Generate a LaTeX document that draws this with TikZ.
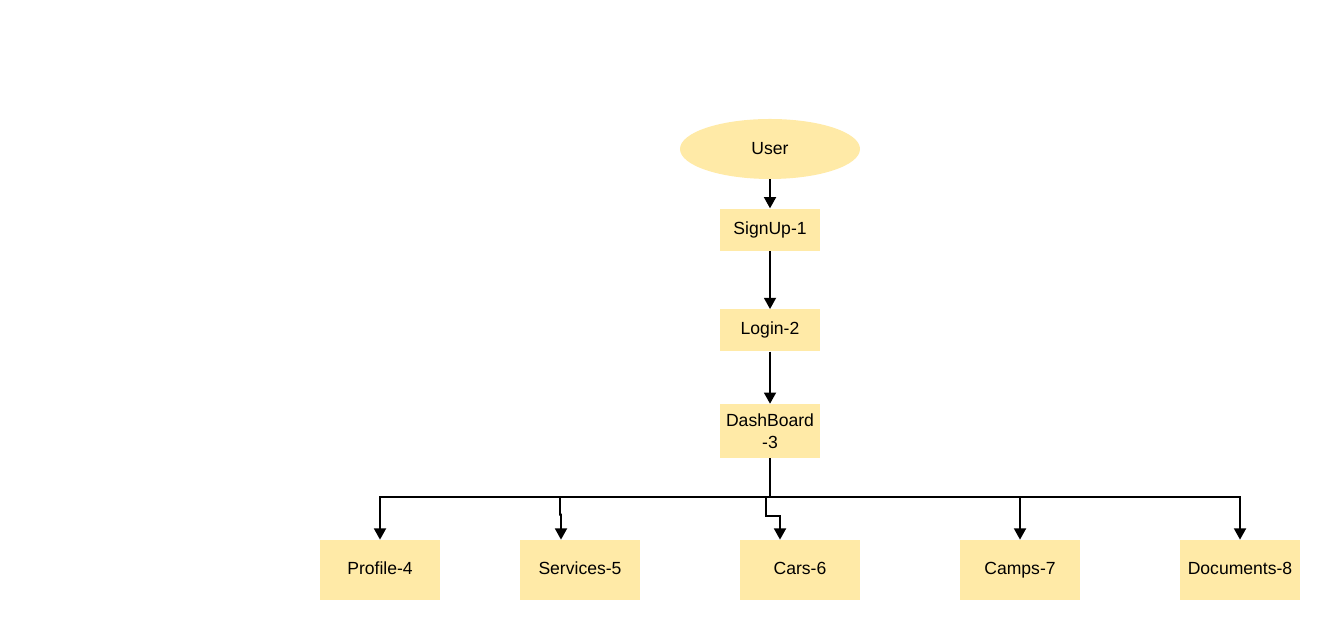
\documentclass[tikz,border=0pt]{standalone}
\usepackage{fontspec}
\setmainfont{Liberation Sans}
\usetikzlibrary{shapes.geometric,arrows.meta,positioning}
\definecolor{boxfill}{HTML}{FFEAA7}
\tikzset{
  >={Triangle[length=6.4pt,width=6.8pt]},
  page/.style={rectangle,fill=boxfill,minimum width=2cm,minimum height=0.84cm,
               inner sep=0pt,align=center,font=\fontsize{10}{12.5}\selectfont},
  module/.style={page,minimum width=2.4cm,minimum height=1.2cm,
                 text height=0.72em,text depth=0.22em},
  actor/.style={ellipse,fill=boxfill,minimum width=3.6cm,minimum height=1.2cm,
                inner sep=0pt,font=\fontsize{10}{12.5}\selectfont},
  arr/.style={->,line width=1.1pt},
  bus/.style={line width=1.1pt},
}
\begin{document}
\begin{tikzpicture}
  \useasboundingbox (0,0) rectangle (26.8,12.8);

  % main chain
  \node[actor] (USER) at (15.4,9.82) {User};
  \node[page,below=0.58cm of USER]   (SIGNUP) {SignUp-1};
  \node[page,below=1.16cm of SIGNUP] (LOGIN)  {Login-2};
  \node[page,below=1.04cm of LOGIN,minimum height=1.08cm] (DASH) {DashBoard\\-3};

  % modules
  \node[module] (PROFILE)  at (7.6,1.4)  {Profile-4};
  \node[module] (SERVICES) at (11.6,1.4) {Services-5};
  \node[module] (CARS)     at (16,1.4)   {Cars-6};
  \node[module] (CAMPS)    at (20.4,1.4) {Camps-7};
  \node[module] (DOCS)     at (24.8,1.4) {Documents-8};

  \coordinate (BUS) at (15.4,2.86);

  \draw[arr] (USER) -- (SIGNUP);
  \draw[arr] (SIGNUP) -- (LOGIN);
  \draw[arr] (LOGIN) -- (DASH);

  \draw[bus] (DASH.south) -- (BUS);
  \draw[arr] (BUS) -| (PROFILE.north);
  \draw[arr] (BUS) -| ([xshift=-0.4cm,yshift=0.5cm]SERVICES.north)
             -- ++(0.02,0) -- ([xshift=-0.38cm]SERVICES.north);
  \draw[arr] (BUS) ++(-0.08,0) -- ++(0,-0.38) -| ([xshift=-0.4cm]CARS.north);
  \draw[arr] (BUS) -| (CAMPS.north);
  \draw[arr] (BUS) -| (DOCS.north);
\end{tikzpicture}
\end{document}
